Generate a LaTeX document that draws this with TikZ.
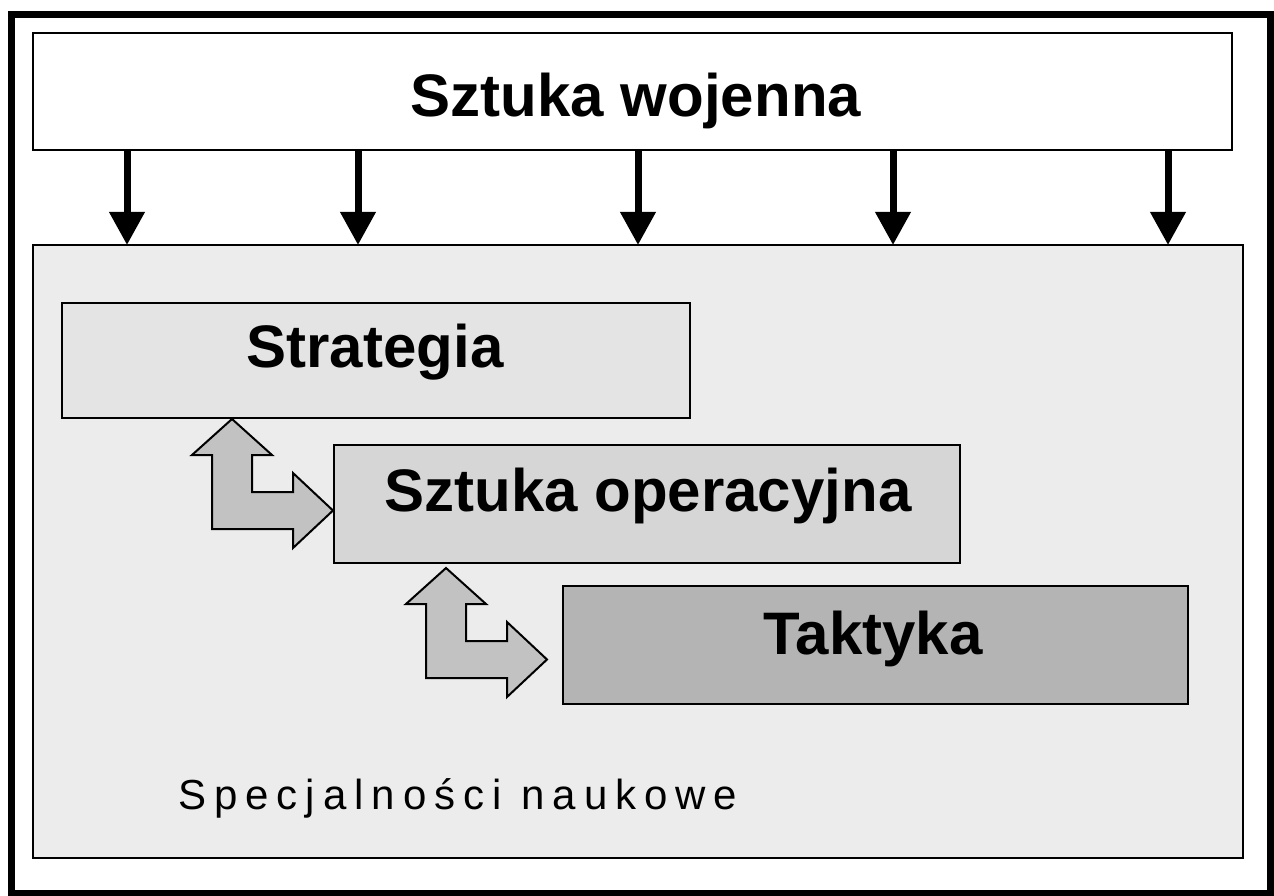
\documentclass[tikz,border=0pt]{standalone}
\usepackage{fontspec}
\setmainfont{Liberation Sans}
\usetikzlibrary{arrows.meta}
\definecolor{bigfill}{HTML}{ECECEC}
\definecolor{strfill}{HTML}{E4E4E4}
\definecolor{opfill}{HTML}{D6D6D6}
\definecolor{takfill}{HTML}{B4B4B4}
\definecolor{arrfill}{HTML}{C2C2C2}
\begin{document}
\begin{tikzpicture}[x=1pt,y=-1pt,
  box/.style={draw=black, line width=2.5pt, inner sep=0pt, outer sep=0pt, rectangle},
  boldtext/.style={font=\fontsize{60}{72}\selectfont\bfseries, inner sep=0pt},
  downarrow/.style={line width=7pt, -{Triangle[width=34pt,length=33pt]}},
  bentarrow/.style={draw=black, line width=2pt, fill=arrfill, line join=miter}]
\useasboundingbox (0,0) rectangle (1274,896);
\fill[white] (0,0) rectangle (1274,896);
% outer frame
\draw[line width=7pt] (11,15) rectangle (1270,893);
% boxes
\node[box, fill=white, minimum width=1199pt, minimum height=117pt] (top) at (632.5,91.5) {};
\node[box, fill=bigfill, minimum width=1210pt, minimum height=613pt] (big) at (638,551.5) {};
\node[box, fill=strfill, minimum width=628pt, minimum height=115pt] (str) at (376,360.5) {};
\node[box, fill=opfill, minimum width=626pt, minimum height=118pt] (op) at (647,504) {};
\node[box, fill=takfill, minimum width=625pt, minimum height=118pt] (tak) at (875.5,645) {};
% texts
\node[boldtext, anchor=base] (t0) at (636,117) {Sztuka wojenna};
\node[boldtext, anchor=base] (t1) at (375,367) {Strategia};
\node[boldtext, anchor=base] (t2) at (648,511) {Sztuka operacyjna};
\node[boldtext, anchor=base] (t3) at (873,654) {Taktyka};
\node[anchor=base west, inner sep=0pt, font=\fontsize{42}{50}\selectfont\addfontfeature{LetterSpace=19}] (sp) at (178,809) {Specjalności naukowe};
% down arrows
\coordinate (c1) at (127,0);
\coordinate (c2) at (358,0);
\coordinate (c3) at (638,0);
\coordinate (c4) at (893,0);
\coordinate (c5) at (1168,0);
\foreach \c in {c1,c2,c3,c4,c5}{
  \draw[downarrow] (top.south -| \c) -- (big.north -| \c);
}
% bent double arrows
\draw[bentarrow] (232,419) -- (272,455) -- (252,455) -- (252,492) -- (293,492) -- (293,473)
  -- (333,510.5) -- (293,548) -- (293,529) -- (212,529) -- (212,455) -- (192,455) -- cycle;
\begin{scope}[shift={(214,149)}]
\draw[bentarrow] (232,419) -- (272,455) -- (252,455) -- (252,492) -- (293,492) -- (293,473)
  -- (333,510.5) -- (293,548) -- (293,529) -- (212,529) -- (212,455) -- (192,455) -- cycle;
\end{scope}
\end{tikzpicture}
\end{document}
